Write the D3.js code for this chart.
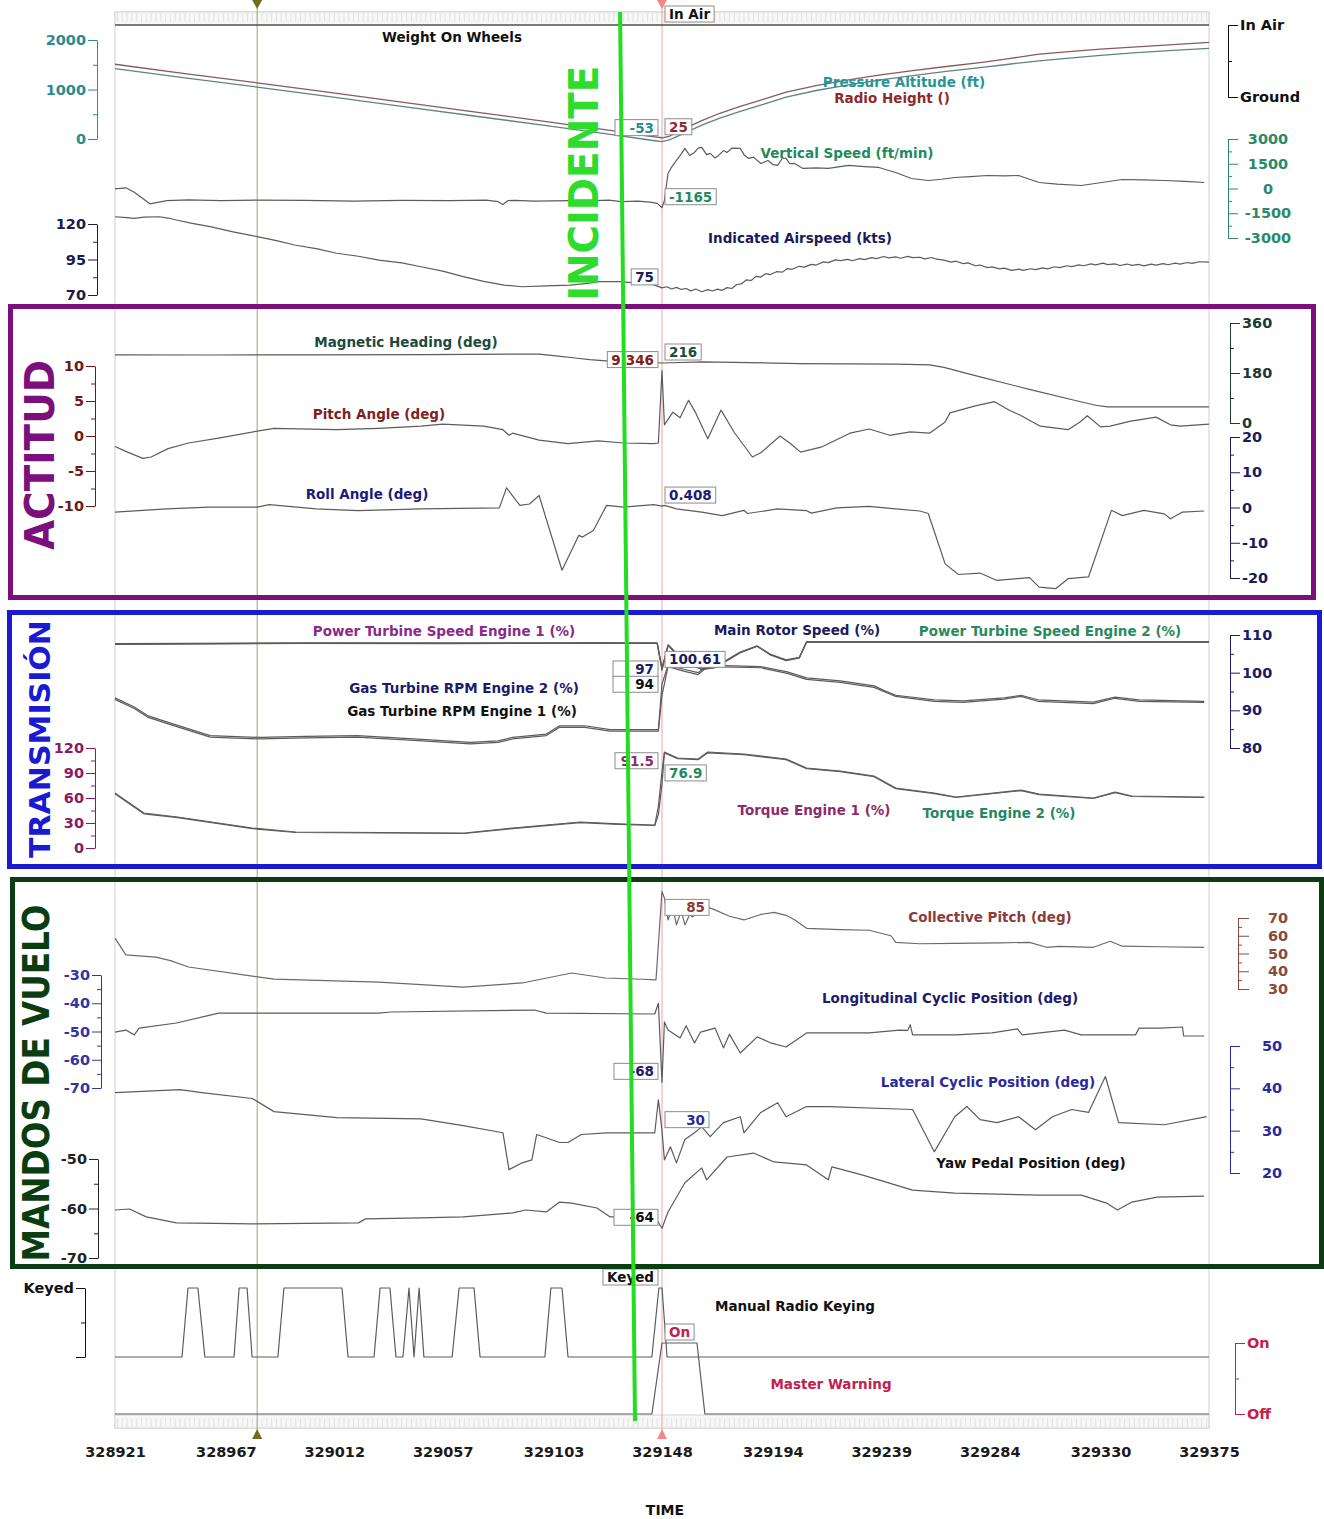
<!DOCTYPE html>
<html>
<head>
<meta charset="utf-8">
<script src="https://cdn.jsdelivr.net/npm/d3@7"></script>
<style>
  body { margin: 0; background: #fff; }
  svg { display: block; font-family: "DejaVu Sans", Verdana, sans-serif; }
</style>
</head>
<body>
<svg id="chart" width="1324" height="1519"></svg>
<script>
// ---------------------------------------------------------------
// Flight data (time in seconds, value in engineering units)
// ---------------------------------------------------------------
const timeTicks = [328921, 328967, 329012, 329057, 329103, 329148, 329194, 329239, 329284, 329330, 329375];
const cursorTime = 329148;
const markerTime = 328980;
const incidentTimes = [329130.6, 329136.8];

const weightOnWheels = [[328921, 1], [329375, 1]];

const pressureAltitude = [[328921,1420],[328950,1235],[328980,1050],[329010,858],[329040,660],[329070,465],[329100,272],[329125,105],[329140,0],[329145,-35],[329148,-53],[329151,-20],[329155.5,80],[329160,180],[329164.5,280],[329172,420],[329180.5,560],[329190,700],[329199.5,847],[329212,980],[329226,1100],[329238,1190],[329252,1280],[329266,1365],[329280,1440],[329292,1510],[329304.5,1580],[329317,1635],[329330,1690],[329345,1745],[329360,1790],[329375,1830]];

const radioHeight = [[328921,1510],[328950,1320],[328980,1135],[329010,940],[329040,745],[329070,548],[329100,352],[329125,185],[329140,75],[329145,42],[329148,25],[329151,55],[329155.5,160],[329160,270],[329164.5,370],[329172,520],[329180.5,660],[329190,800],[329199.5,947],[329212,1080],[329226,1200],[329238,1290],[329252,1380],[329266,1465],[329280,1545],[329292,1625],[329304.5,1713],[329317,1765],[329330,1815],[329345,1860],[329360,1905],[329375,1950]];

const verticalSpeed = [[328921,-20],[328925.5,40],[328929,-225],[328935.5,-930],[328942.5,-730],[328951.5,-690],[328965,-740],[328980,-700],[329000,-720],[329020,-760],[329040,-720],[329060,-740],[329075,-710],[329080,-800],[329082,-970],[329084,-740],[329087,-720],[329095,-760],[329110,-730],[329120,-740],[329126,-700],[329131,-790],[329138,-760],[329143,-830],[329146,-900],[329148,-1165],[329149,-729],[329150.5,911],[329152,1300],[329154,1700],[329156,2100],[329157.5,2429],[329159.5,2000],[329161.5,2186],[329163,2450],[329164.5,2489],[329166.5,2050],[329168,2125],[329170,1850],[329171.5,2004],[329173.5,2300],[329175,2186],[329177,2450],[329180.5,2429],[329182,2050],[329184,1822],[329186,1900],[329189,1518],[329192,1700],[329194,1450],[329196,1397],[329198,1850],[329199.5,1822],[329201,1500],[329203,1518],[329206.5,1215],[329212,1250],[329217,1215],[329225.5,1397],[329232,1330],[329238,1275],[329245,972],[329251.5,607],[329258.5,486],[329264,560],[329269.5,668],[329276,720],[329283,789],[329290,760],[329296,789],[329304.5,364],[329312,260],[329322,182],[329330.5,364],[329339,546],[329348,520],[329356.5,486],[329365,430],[329373,364]];

const airspeed = [[328921,125.1],[328926,124.5],[328929,124],[328933,124.8],[328939.5,125.1],[328943,124.2],[328946.5,122.8],[328953,120.5],[328960.5,118.1],[328970,114.5],[328980,111.1],[328988,108.3],[328995.5,105.2],[329005,102.5],[329013,99.4],[329022,97.3],[329030.5,94.6],[329040,92.6],[329048,89.9],[329057,86.8],[329065.5,82.9],[329074,79.6],[329082.5,77],[329090,75.8],[329100,76.4],[329110,77],[329118,78.4],[329122,79.4],[329130.5,79.4],[329139,78.2],[329144,77.5],[329148,75],[329150,75.8],[329152,74.2],[329154,75.4],[329156,73.9],[329158,74.6],[329160,72.9],[329162,74.2],[329164.5,72.3],[329167,73.8],[329169,72.8],[329171,74.1],[329173,73.3],[329175,75.2],[329177,74.6],[329179,77.4],[329181,77.9],[329183,80.6],[329185,80.2],[329187,83.1],[329189,82.6],[329191,85],[329193,84.4],[329195.5,86.4],[329198,86.1],[329200,88.6],[329202,88.1],[329205,90.2],[329207,89.6],[329210,91.6],[329212,91.1],[329215,93.3],[329217,92.8],[329220,94.7],[329222,94.2],[329225,95.1],[329227,94.1],[329230,95.6],[329232,94.9],[329235,96.3],[329237,95.6],[329240,97.1],[329242,96.2],[329245,96.8],[329247,95.9],[329250,97.2],[329252,96.3],[329255,96.6],[329257,95.4],[329260,96.4],[329262,95.2],[329265,94.6],[329268,93.2],[329270,93.8],[329273,92.1],[329275,92.6],[329278,90.6],[329280,91.1],[329283,89.3],[329285,89.8],[329288,88.4],[329290,88.9],[329293,87.3],[329296,88.2],[329298,87.4],[329301,88.5],[329303,87.9],[329306,89.1],[329308,88.4],[329311,89.9],[329313,89.3],[329316,90.6],[329318,90.0],[329321,91.2],[329323,90.6],[329326,91.9],[329328,91.2],[329331,92.4],[329333,91.4],[329336,91.9],[329338,90.8],[329341,91.8],[329343,90.9],[329346,91.5],[329348,90.5],[329351,91.7],[329353,91.0],[329356,92.1],[329358,91.3],[329361,92.4],[329363,91.8],[329366,92.9],[329368,92.3],[329371,93.4],[329375,93.2]];

const magneticHeading = [[328921,245],[328960,244.8],[329000,245.5],[329050,246],[329090,248],[329097,248],[329105,241],[329112,234],[329118,228],[329126,223],[329140,220],[329148,216],[329165,220],[329205,214],[329245,212],[329259,209],[329265,200],[329280,166],[329300,122],[329320,80],[329328,64],[329333,58],[329375,58]];

const pitchAngle = [[328921,-1.5],[328925.5,-2.2],[328932.5,-3.2],[328936,-3.0],[328943,-1.8],[328951.5,-1.0],[328964,-0.3],[328980,0.7],[328987,1.1],[329013,0.9],[329030.5,1.1],[329048,1.4],[329057,1.7],[329074,1.4],[329082,0.9],[329084.5,0.1],[329086,0.4],[329097,-0.6],[329109,-1.1],[329121.5,-0.7],[329132,-1.0],[329144.5,-1.1],[329146.5,-1.0],[329148,9.346],[329149,1.6],[329152.5,3.4],[329155.5,2.6],[329159,5.1],[329162,3.3],[329167,-0.4],[329172.5,3.7],[329178,0.5],[329185.5,-3.0],[329189,-2.4],[329197,0.0],[329201,-1.0],[329205.5,-2.3],[329214,-1.6],[329226,0.4],[329234,1.0],[329242.5,0.1],[329251,0.6],[329259,0.4],[329265.5,2.0],[329267.5,3.3],[329278,4.3],[329286,4.9],[329292.5,3.6],[329296.5,3.0],[329305,1.4],[329316.5,0.9],[329321.5,2.0],[329324.5,2.9],[329330,1.3],[329334,1.4],[329342,2.1],[329353,2.7],[329359,1.6],[329363,1.4],[329375,1.7]];

const rollAngle = [[328921,-1.3],[328942.5,-0.4],[328960,0.1],[328980,0.1],[328985,0.8],[329004.5,-0.4],[329022,-0.9],[329048,-0.4],[329080.5,-0.1],[329083.5,5.6],[329089,0.6],[329093,1.0],[329097,3.4],[329098.5,0],[329106.5,-17.8],[329113.5,-7.9],[329115,-8.4],[329119.5,-6.5],[329125,0.6],[329132,0.1],[329144.5,0.8],[329148,0.408],[329149,0.6],[329154,-0.4],[329164.5,-1.3],[329173,-2.3],[329182,-0.8],[329183.5,-1.7],[329196,-0.4],[329208,-0.9],[329210,-1.6],[329220.5,-0.1],[329234,0.3],[329245,-0.4],[329255,-1.0],[329258.5,-1.7],[329265.5,-16],[329271,-19],[329280,-18.6],[329287,-20.7],[329295.5,-20.2],[329300.5,-19.9],[329304.5,-22.6],[329311.5,-23],[329316.5,-20.2],[329325,-19.7],[329334.5,-0.8],[329339,-2.3],[329348,-0.8],[329356.5,-1.8],[329359,-3.2],[329364,-1.3],[329373,-1.0]];

const mainRotorSpeed = [[328921,107.6],[328990,107.8],[329060,107.7],[329120,107.9],[329146,107.8],[329148,100.61],[329150.5,107.4],[329157.5,102.9],[329164.5,100.8],[329170,101.3],[329175,103.4],[329180.5,105.5],[329187.5,107.1],[329193,104.7],[329199.5,103.2],[329205,103.9],[329208,108.2],[329250,108.2],[329300,108.1],[329375,108.2]];
const powerTurbineEngine1 = [[328921,107.7],[329000,107.9],[329100,107.9],[329146,107.9],[329148,101.2],[329150.5,107.2],[329157.5,102.6],[329164.5,101.1],[329170,101.6],[329175,103.2],[329180.5,105.3],[329187.5,107],[329193,104.9],[329199.5,103.4],[329205,104.1],[329208,108.1],[329375,108.1]];
const powerTurbineEngine2 = [[328921,107.5],[329000,107.8],[329100,107.8],[329146,107.8],[329148,101],[329150.5,107.3],[329157.5,102.8],[329164.5,100.9],[329170,101.4],[329175,103.3],[329180.5,105.4],[329187.5,107],[329193,104.8],[329199.5,103.3],[329205,104],[329208,108.2],[329375,108.2]];

const gasTurbineEngine1 = [[328921,92.9],[328929,90.5],[328934.5,88.2],[328945,86],[328960.5,82.9],[328981.5,82.4],[329000,82.7],[329021.5,82.9],[329045,82],[329068.5,81.1],[329080,81.5],[329086,82.4],[329100,83.3],[329105.5,85.5],[329116,85.5],[329126.5,84.5],[329146.5,84.5],[329148,94],[329150.5,101.6],[329157,100.4],[329163,99.5],[329167,101.6],[329189,101.3],[329200,99.8],[329208,98.2],[329222,97.4],[329236,96.1],[329240,95],[329245,93.7],[329261,92.4],[329273,92.1],[329290,93],[329297,93.7],[329304,92.4],[329327,91.8],[329336,93.2],[329346,92.4],[329373,92.1]];
const gasTurbineEngine2 = [[328921,93.3],[328929,90.9],[328934.5,88.6],[328945,86.4],[328960.5,83.3],[328981.5,82.8],[329000,83.1],[329021.5,83.3],[329045,82.4],[329068.5,81.5],[329080,81.9],[329086,82.8],[329100,83.7],[329105.5,85.9],[329116,85.9],[329126.5,84.9],[329146.5,84.9],[329148,97],[329150.5,102],[329157,100.9],[329163,100],[329167,102],[329189,101.6],[329200,100.2],[329208,98.6],[329222,97.8],[329236,96.5],[329240,95.3],[329245,94],[329261,92.8],[329273,92.5],[329290,93.3],[329297,94],[329304,92.8],[329327,92.2],[329336,93.5],[329346,92.8],[329373,92.4]];

const torqueEngine1 = [[328921,66],[328925,58],[328933,42],[328947,37.2],[328978,24],[328996,19.2],[329066,18],[329086,24],[329114,31.2],[329130,29],[329145,27.6],[329146.5,50],[329148,91.5],[329149,115.2],[329154.5,108],[329163,106.8],[329167,115.2],[329182,112.8],[329199.5,106.8],[329208,96],[329222,92.4],[329236,86.4],[329245,72],[329261,66],[329270,61.2],[329297,69.6],[329304.5,64.8],[329327,60],[329336,67.2],[329343,62.4],[329373,61.2]];
const torqueEngine2 = [[328921,65],[328925,57],[328933,41],[328947,36.4],[328978,23.2],[328996,18.6],[329066,17.4],[329086,23.2],[329114,30.4],[329130,28.4],[329145,27],[329146.5,40],[329148,76.9],[329149,114],[329154.5,107.2],[329163,106],[329167,114.2],[329182,112],[329199.5,106],[329208,95.2],[329222,91.6],[329236,85.6],[329245,71.2],[329261,65.2],[329270,60.6],[329297,68.8],[329304.5,64],[329327,59.4],[329336,66.4],[329343,61.8],[329373,60.6]];

const collectivePitch = [[328921,58.7],[328925.5,49.2],[328938,48],[328944,46],[328951.5,42.4],[328978,37.3],[328987,35.6],[329030.5,33.9],[329065.5,31.1],[329090,33.4],[329110.5,39],[329124.5,36.2],[329140,35.5],[329145.5,35.1],[329148,85],[329149,81.3],[329150.5,68.9],[329152.5,76],[329154,66.1],[329156,74],[329157.5,66.1],[329159.5,72],[329160.5,70.6],[329166.5,76.3],[329170,74.6],[329176,71],[329182,68.9],[329189,72],[329194.5,73.2],[329199.5,71.5],[329203,69],[329208,64.2],[329222,63.5],[329234,63.1],[329243,60],[329245,56.3],[329255,55.5],[329269.5,55.7],[329288,56],[329300.5,56.3],[329307.5,53.5],[329313,54],[329327,53.5],[329334,56.9],[329339,54.1],[329355,53.8],[329373,53.5]];

const longitudinalCyclic = [[328921,-50.2],[328925.5,-49.5],[328929,-51.2],[328931,-48.8],[328946.5,-47],[328964,-43.5],[329030.5,-43.5],[329035.5,-43.1],[329095,-42.4],[329100,-43.5],[329145,-43.8],[329146.5,-40],[329148,-68],[329149,-46.6],[329150.5,-49.5],[329155.5,-52.3],[329158,-48],[329161.5,-54.1],[329164,-50.2],[329170,-48.8],[329173.5,-55.8],[329176,-51],[329180.5,-57.6],[329187.5,-51.9],[329193,-54],[329199.5,-55.5],[329208,-50.5],[329234,-50.5],[329246.5,-49.5],[329250,-49.6],[329251,-47.6],[329252,-51.2],[329270,-51.2],[329285,-50.5],[329295.5,-49.1],[329297.5,-51.2],[329315,-49.5],[329322,-51.2],[329344.5,-51.2],[329346,-48.8],[329355,-48.8],[329364,-48.4],[329364.5,-51.6],[329373,-51.6]];

const lateralCyclic = [[328921,39],[328948,39.7],[328957,39],[328978,37.6],[328987,34.5],[329013,33.1],[329048,32.8],[329065.5,31.2],[329082,29.5],[329084.5,20.8],[329090,22.4],[329094,23.1],[329096,29.1],[329105.5,27.2],[329109,27.2],[329114.5,29.1],[329125,29.5],[329145,29.5],[329146.5,37.3],[329148,30],[329149,23.1],[329151.5,26.2],[329154,22.4],[329157.5,27.9],[329161.5,29.5],[329164.5,30.9],[329168,28.6],[329173.5,31.9],[329180.5,33.3],[329182,29.5],[329189,34.3],[329196,36.6],[329199.5,33.3],[329208,35.7],[329217,35.7],[329252,35],[329261,25],[329269.5,33.3],[329274.5,35.7],[329280,32.6],[329287,31.9],[329296,33.3],[329303,30.2],[329310,33.3],[329318,35],[329325,34.3],[329332,42.8],[329337.5,31.9],[329356.5,31.4],[329374,33.3]];

const yawPedal = [[328921,-60.3],[328927,-60.1],[328934,-61.7],[328946.5,-62.9],[328978,-63.1],[329022,-62.9],[329025,-62.1],[329048,-61.9],[329065.5,-61.7],[329086,-60.9],[329091.5,-60.3],[329100,-60.7],[329105.5,-58.7],[329110.5,-58.9],[329121,-59.9],[329126.5,-61.7],[329145,-61.7],[329148,-64],[329150.5,-60.7],[329157.5,-54.8],[329164.5,-51.8],[329166.5,-54.2],[329175,-49.6],[329186,-48.8],[329194.5,-50.6],[329208,-51.2],[329217,-54.2],[329218.5,-51.6],[329231,-53.2],[329252,-56.3],[329269.5,-56.9],[329304.5,-57.3],[329322,-57.3],[329332.5,-58.9],[329337,-60.3],[329343,-58.7],[329353.5,-57.7],[329373,-57.5]];

const radioKeying = [[328921,0],[328948.8,0],[328951.3,1],[328955.4,1],[328958.3,0],[328970.4,0],[328972.5,1],[328975.8,1],[328977.9,0],[328988.6,0],[328991.1,1],[329015.2,1],[329017.7,0],[329028.5,0],[329031,1],[329035.1,1],[329037.6,0],[329040.5,0],[329043,1],[329045.1,0],[329047.2,1],[329049.2,0],[329060.9,0],[329063.8,1],[329070,1],[329072.5,0],[329099.4,0],[329101.9,1],[329106.5,1],[329109,0],[329143.8,0],[329146.7,1],[329148,1],[329150.1,0],[329375,0]];

const masterWarning = [[328921,0],[329143.8,0],[329148,1],[329162.5,1],[329165.8,0],[329375,0]];

// ---------------------------------------------------------------
// Scales
// ---------------------------------------------------------------
const svg = d3.select("#chart");
const FONT = '"DejaVu Sans", Verdana, sans-serif';
const plain = d => String(d);
const x = d3.scaleLinear().domain([328921, 329375]).range([115, 1209]);

const yWow   = d3.scaleLinear().domain([0, 1]).range([97, 25]);
const yAlt   = d3.scaleLinear().domain([0, 2000]).range([139, 40]);
const yVs    = d3.scaleLinear().domain([-3000, 3000]).range([238, 139]);
const yIas   = d3.scaleLinear().domain([70, 120]).range([295, 224]);
const yHdg   = d3.scaleLinear().domain([0, 360]).range([423, 323]);
const yPitch = d3.scaleLinear().domain([-10, 10]).range([506, 366]);
const yRoll  = d3.scaleLinear().domain([-20, 20]).range([578, 437]);
const yRpm   = d3.scaleLinear().domain([80, 110]).range([748, 635]);
const yTq    = d3.scaleLinear().domain([0, 120]).range([848, 748]);
const yColl  = d3.scaleLinear().domain([30, 70]).range([989, 918]);
const yLon   = d3.scaleLinear().domain([-70, -30]).range([1088, 975]);
const yLat   = d3.scaleLinear().domain([20, 50]).range([1173, 1046]);
const yYaw   = d3.scaleLinear().domain([-70, -50]).range([1258, 1159]);
const yKey   = d3.scaleLinear().domain([0, 1]).range([1357, 1288]);
const yMw    = d3.scaleLinear().domain([0, 1]).range([1414, 1343]);

// ---------------------------------------------------------------
// Plot frame, tick strips, cursors
// ---------------------------------------------------------------
const frame = svg.append("g");
frame.append("rect").attr("x", x.range()[0]).attr("y", 12)
  .attr("width", x.range()[1] - x.range()[0]).attr("height", 1416)
  .attr("fill", "none").attr("stroke", "#cfcfcf");
frame.append("rect").attr("x", x.range()[0]).attr("y", 12)
  .attr("width", x.range()[1] - x.range()[0]).attr("height", 13)
  .attr("fill", "#f7f7f7").attr("stroke", "#d6d6d6");
frame.append("rect").attr("x", x.range()[0]).attr("y", 1415)
  .attr("width", x.range()[1] - x.range()[0]).attr("height", 13)
  .attr("fill", "#f7f7f7").attr("stroke", "#d6d6d6");
const stripTicks = d3.range(328922, 329375, 2);
frame.selectAll(".st").data(stripTicks).join("line")
  .attr("x1", d => x(d)).attr("x2", d => x(d)).attr("y1", 13).attr("y2", 22)
  .attr("stroke", "#e2e2e2");
frame.selectAll(".sb").data(stripTicks).join("line")
  .attr("x1", d => x(d)).attr("x2", d => x(d)).attr("y1", 1418).attr("y2", 1427)
  .attr("stroke", "#e2e2e2");

function cursor(t, lineColor, markColor) {
  const cx = x(t);
  svg.append("line").attr("x1", cx).attr("x2", cx).attr("y1", 4).attr("y2", 1432)
    .attr("stroke", lineColor).attr("stroke-width", 1);
  svg.append("path").attr("d", `M${cx-5},0L${cx+5},0L${cx},9Z`).attr("fill", markColor);
  svg.append("path").attr("d", `M${cx-5},1439L${cx+5},1439L${cx},1429Z`).attr("fill", markColor);
}
cursor(markerTime, "#a3a36a", "#6d6d1e");
cursor(cursorTime, "#f2a6a6", "#f08a8a");

// ---------------------------------------------------------------
// Traces
// ---------------------------------------------------------------
function trace(data, yScale, color, width) {
  const line = d3.line().x(d => x(d[0])).y(d => yScale(d[1]));
  svg.append("path").datum(data).attr("d", line)
    .attr("fill", "none").attr("stroke", color || "#5c5c5c")
    .attr("stroke-width", width || 1.2).attr("stroke-linejoin", "round");
}
trace(weightOnWheels, yWow, "#555", 1.4);
trace(radioHeight, yAlt, "#8a5a5a", 1.3);
trace(pressureAltitude, yAlt, "#5a8585", 1.3);
trace(verticalSpeed, yVs);
trace(airspeed, yIas);
trace(magneticHeading, yHdg);
trace(pitchAngle, yPitch);
trace(rollAngle, yRoll);
trace(powerTurbineEngine1, yRpm);
trace(powerTurbineEngine2, yRpm);
trace(mainRotorSpeed, yRpm);
trace(gasTurbineEngine2, yRpm);
trace(gasTurbineEngine1, yRpm);
trace(torqueEngine2, yTq);
trace(torqueEngine1, yTq);
trace(collectivePitch, yColl, "#6a6a6a");
trace(longitudinalCyclic, yLon);
trace(lateralCyclic, yLat);
trace(yawPedal, yYaw);
trace(radioKeying, yKey);
trace(masterWarning, yMw);

// ---------------------------------------------------------------
// Series names
// ---------------------------------------------------------------
const seriesLabels = [
  ["Weight On Wheels", 452, 37, "#111"],
  ["Pressure Altitude (ft)", 904, 82, "#2a9494"],
  ["Radio Height ()", 892, 98, "#8e2a2a"],
  ["Vertical Speed (ft/min)", 847, 153, "#1f8a5e"],
  ["Indicated Airspeed (kts)", 800, 238, "#1b1b5c"],
  ["Magnetic Heading (deg)", 406, 342, "#1d4a3e"],
  ["Pitch Angle (deg)", 379, 414, "#7d2222"],
  ["Roll Angle (deg)", 367, 494, "#1c1c78"],
  ["Power Turbine Speed Engine 1 (%)", 444, 631, "#8a2a8a"],
  ["Main Rotor Speed (%)", 797, 630, "#1b1b5c"],
  ["Power Turbine Speed Engine 2 (%)", 1050, 631, "#2a8a5c"],
  ["Gas Turbine RPM Engine 2 (%)", 464, 688, "#1c1c6c"],
  ["Gas Turbine RPM Engine 1 (%)", 462, 711, "#111"],
  ["Torque Engine 1 (%)", 814, 810, "#8e2a6e"],
  ["Torque Engine 2 (%)", 999, 813, "#1f8a5e"],
  ["Collective Pitch (deg)", 990, 917, "#8a3c3c"],
  ["Longitudinal Cyclic Position (deg)", 950, 998, "#1c1c6c"],
  ["Lateral Cyclic Position (deg)", 988, 1082, "#2a2a9c"],
  ["Yaw Pedal Position (deg)", 1031, 1163, "#111"],
  ["Manual Radio Keying", 795, 1306, "#111"],
  ["Master Warning", 831, 1384, "#c2204e"]
];
svg.append("g").selectAll("text").data(seriesLabels).join("text")
  .attr("x", d => d[1]).attr("y", d => d[2]).attr("dy", "0.35em")
  .attr("text-anchor", "middle").attr("fill", d => d[3])
  .style("font-family", FONT).style("font-size", "13.5px").style("font-weight", "bold")
  .text(d => d[0]);

// ---------------------------------------------------------------
// Value axes
// ---------------------------------------------------------------
function valueAxis(c) {
  const make = c.side === "left" ? d3.axisLeft : d3.axisRight;
  const g = svg.append("g").attr("transform", `translate(${c.x},0)`);
  g.call(make(c.scale).tickValues(c.ticks).tickSize(c.len || 9).tickSizeOuter(0)
    .tickPadding(c.pad || 2).tickFormat(c.fmt || plain));
  if (c.minor) {
    const m = g.append("g").call(make(c.scale).tickValues(c.minor).tickSize(4).tickFormat(""));
    m.select(".domain").remove();
  }
  g.selectAll("path, line").attr("stroke", c.stroke || c.color).attr("stroke-width", 1);
  const txt = g.selectAll("text").attr("fill", c.color)
    .style("font-family", FONT).style("font-size", "14.5px").style("font-weight", "bold");
  if (c.anchor) txt.attr("text-anchor", c.anchor).attr("x", c.labelX);
  return g;
}
valueAxis({scale: yAlt, x: 97, side: "left", ticks: [0, 1000, 2000], minor: [500, 1500], color: "#2a8c8c"});
valueAxis({scale: yIas, x: 97, side: "left", ticks: [70, 95, 120], minor: [82.5, 107.5], color: "#1b1b52"});
valueAxis({scale: yPitch, x: 95, side: "left", ticks: [-10, -5, 0, 5, 10], minor: [-7.5, -2.5, 2.5, 7.5], color: "#701818"});
valueAxis({scale: yTq, x: 95, side: "left", ticks: [0, 30, 60, 90, 120], minor: [15, 45, 75, 105], color: "#8a1a62"});
valueAxis({scale: yLon, x: 101, side: "left", ticks: [-70, -60, -50, -40, -30], minor: [-65, -55, -45, -35], color: "#3434a0"});
valueAxis({scale: yYaw, x: 98, side: "left", ticks: [-70, -60, -50], minor: [-65, -55], color: "#222"});
valueAxis({scale: yKey, x: 85, side: "left", ticks: [0, 1], minor: [0.5], color: "#111", fmt: d => d ? "Keyed" : ""});

valueAxis({scale: yWow, x: 1228, side: "right", ticks: [0, 1], minor: [0.5], color: "#111", len: 10, fmt: d => d ? "In Air" : "Ground"});
valueAxis({scale: yVs, x: 1228, side: "right", ticks: [-3000, -1500, 0, 1500, 3000], minor: [-2250, -750, 750, 2250],
  color: "#2a8a68", len: 10, anchor: "middle", labelX: 40});
valueAxis({scale: yHdg, x: 1230, side: "right", ticks: [0, 180, 360], minor: [90, 270], color: "#1c3a36", len: 10});
valueAxis({scale: yRoll, x: 1230, side: "right", ticks: [-20, -10, 0, 10, 20], minor: [-15, -5, 5, 15], color: "#1b1b5c", len: 10});
valueAxis({scale: yRpm, x: 1230, side: "right", ticks: [80, 90, 100, 110], minor: [85, 95, 105], color: "#1b1b66", len: 10});
valueAxis({scale: yColl, x: 1238, side: "right", ticks: [30, 40, 50, 60, 70], minor: [35, 45, 55, 65], color: "#8a4a3c",
  len: 11, anchor: "start", labelX: 30});
valueAxis({scale: yLat, x: 1230, side: "right", ticks: [20, 30, 40, 50], minor: [25, 35, 45], color: "#2a2aa0",
  len: 10, anchor: "start", labelX: 32});
valueAxis({scale: yMw, x: 1235, side: "right", ticks: [0, 1], minor: [0.5], color: "#c2204a", len: 10, fmt: d => d ? "On" : "Off"});

// ---------------------------------------------------------------
// Time axis
// ---------------------------------------------------------------
const tAxis = svg.append("g").attr("transform", "translate(0,1440)")
  .call(d3.axisBottom(x).tickValues(timeTicks).tickSize(0).tickPadding(7).tickFormat(plain));
tAxis.select(".domain").remove();
tAxis.selectAll("text").attr("fill", "#1a1a1a")
  .style("font-family", FONT).style("font-size", "14.5px").style("font-weight", "bold");
svg.append("text").attr("x", 665).attr("y", 1515).attr("text-anchor", "middle")
  .attr("fill", "#111").style("font-family", FONT).style("font-size", "14px").style("font-weight", "bold")
  .text("TIME");

// ---------------------------------------------------------------
// Cursor read-outs
// ---------------------------------------------------------------
function valueAt(data, t) {
  const p = data.find(d => d[0] === t);
  return p ? p[1] : null;
}
const readouts = [
  {data: weightOnWheels, scale: yWow, t: 328921, side: "right", color: "#111", fmt: v => v ? "In Air" : "Ground"},
  {data: pressureAltitude, scale: yAlt, side: "left", color: "#2a8c8c", minW: 43, dy: -14},
  {data: radioHeight, scale: yAlt, side: "right", color: "#8e2a2a", dy: -11},
  {data: verticalSpeed, scale: yVs, side: "right", color: "#1f8a5e"},
  {data: airspeed, scale: yIas, side: "left", color: "#1b1b5c"},
  {data: pitchAngle, scale: yPitch, side: "left", color: "#7d2222", fmt: d3.format(".3f")},
  {data: magneticHeading, scale: yHdg, side: "right", color: "#1d4a3e"},
  {data: rollAngle, scale: yRoll, side: "right", color: "#1c1c78", fmt: d3.format(".3f")},
  {data: gasTurbineEngine2, scale: yRpm, side: "left", color: "#1c1c6c", minW: 45, dy: -15},
  {data: gasTurbineEngine1, scale: yRpm, side: "left", color: "#111", minW: 45},
  {data: mainRotorSpeed, scale: yRpm, side: "right", color: "#1b1b5c", fmt: d3.format(".2f")},
  {data: torqueEngine1, scale: yTq, side: "left", color: "#8e2a6e", minW: 43, fmt: d3.format(".1f")},
  {data: torqueEngine2, scale: yTq, side: "right", color: "#1f8a5e", fmt: d3.format(".1f")},
  {data: collectivePitch, scale: yColl, side: "right", color: "#8a3c3c", minW: 44, dy: 16},
  {data: longitudinalCyclic, scale: yLon, side: "left", color: "#1c1c6c", minW: 44},
  {data: lateralCyclic, scale: yLat, side: "right", color: "#2a2a9c", minW: 44},
  {data: yawPedal, scale: yYaw, side: "left", color: "#111", minW: 44},
  {data: radioKeying, scale: yKey, side: "left", color: "#111", fmt: v => v ? "Keyed" : ""},
  {data: masterWarning, scale: yMw, side: "right", color: "#c2204a", fmt: v => v ? "On" : "Off"}
];
const cx = x(cursorTime);
readouts.forEach(r => {
  const v = valueAt(r.data, r.t || cursorTime);
  const yv = r.scale(v) + (r.dy === undefined ? -11 : r.dy);
  const g = svg.append("g");
  const rect = g.append("rect");
  const txt = g.append("text").text((r.fmt || plain)(v)).attr("fill", r.color)
    .style("font-family", FONT).style("font-size", "13.5px").style("font-weight", "bold");
  const w = Math.max(txt.node().getComputedTextLength() + 8, r.minW || 0);
  const x0 = r.side === "left" ? cx - 4 - w : cx + 3;
  rect.attr("x", x0).attr("y", yv - 8).attr("width", w).attr("height", 16)
    .attr("fill", "#fff").attr("stroke", "#8c8c8c");
  txt.attr("x", x0 + w - 4).attr("y", yv + 5).attr("text-anchor", "end");
});

// ---------------------------------------------------------------
// Section frames and titles
// ---------------------------------------------------------------
const sections = [
  {name: "ACTITUD", color: "#7b0f7b", box: [10.5, 306.5, 1303, 291], label: [40, 455, 40, 190]},
  {name: "TRANSMISIÓN", color: "#1a1ad2", box: [9.5, 612.5, 1310, 254], label: [40, 739, 29, 238]},
  {name: "MANDOS DE VUELO", color: "#0b3d12", box: [12.5, 879.5, 1309, 387], label: [36, 1083, 37, 357]}
];
sections.forEach(s => {
  svg.append("rect").attr("x", s.box[0]).attr("y", s.box[1]).attr("width", s.box[2]).attr("height", s.box[3])
    .attr("fill", "none").attr("stroke", s.color).attr("stroke-width", 5);
  svg.append("text").attr("transform", `translate(${s.label[0]},${s.label[1]}) rotate(-90)`)
    .attr("text-anchor", "middle").attr("dy", "0.36em").attr("fill", s.color)
    .attr("textLength", s.label[3]).attr("lengthAdjust", "spacingAndGlyphs")
    .style("font-family", FONT).style("font-size", s.label[2] + "px").style("font-weight", "bold")
    .text(s.name);
});

// ---------------------------------------------------------------
// Incident marker
// ---------------------------------------------------------------
svg.append("line").attr("x1", x(incidentTimes[0])).attr("y1", 12)
  .attr("x2", x(incidentTimes[1])).attr("y2", 1421)
  .attr("stroke", "#22dd22").attr("stroke-width", 4);
svg.append("text").attr("transform", "translate(583,183) rotate(-90)")
  .attr("text-anchor", "middle").attr("dy", "0.36em").attr("fill", "#2edc2e")
  .attr("textLength", 235).attr("lengthAdjust", "spacingAndGlyphs")
  .style("font-family", FONT).style("font-size", "41px").style("font-weight", "bold")
  .text("INCIDENTE");
</script>
</body>
</html>
